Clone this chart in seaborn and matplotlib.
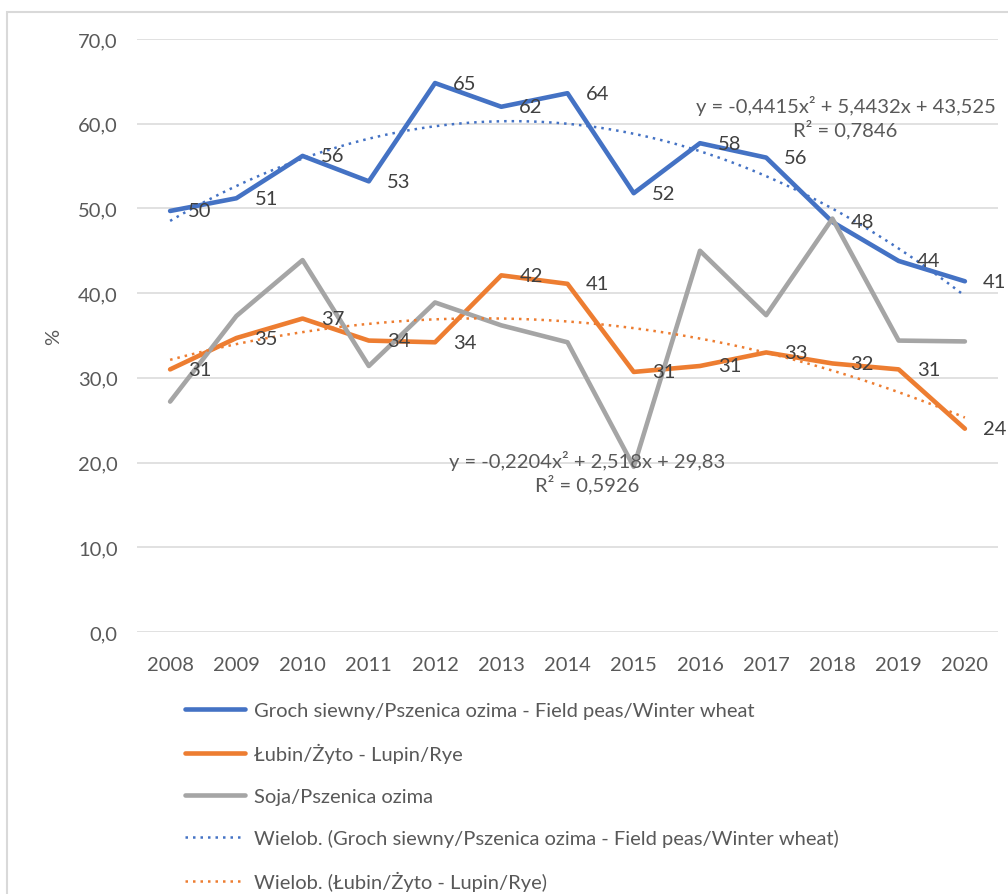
import numpy as np
import pandas as pd
import matplotlib.pyplot as plt
import seaborn as sns
from matplotlib.lines import Line2D
from matplotlib.patches import Rectangle

# data
years = [2008, 2009, 2010, 2011, 2012, 2013, 2014, 2015, 2016, 2017, 2018, 2019, 2020]
groch = [49.7, 51.2, 56.2, 53.2, 64.8, 62.0, 63.6, 51.8, 57.7, 56.0, 48.4, 43.8, 41.4]
lubin = [31.0, 34.7, 37.0, 34.4, 34.2, 42.1, 41.1, 30.7, 31.4, 33.0, 31.7, 31.0, 24.0]
soja = [27.2, 37.3, 43.9, 31.4, 38.9, 36.2, 34.2, 19.5, 45.0, 37.4, 48.8, 34.4, 34.3]

# polynomial trendline coefficients shown on the chart (x = 1..13)
groch_coef = [-0.4415, 5.4432, 43.525]
lubin_coef = [-0.2204, 2.518, 29.83]

names = ["Groch siewny/Pszenica ozima - Field peas/Winter wheat",
         "Łubin/Żyto - Lupin/Rye",
         "Soja/Pszenica ozima"]
trend_names = ["Wielob. (Groch siewny/Pszenica ozima - Field peas/Winter wheat)",
               "Wielob. (Łubin/Żyto - Lupin/Rye)"]

BLUE, ORANGE, GREY = "#4472C4", "#ED7D31", "#A5A5A5"
TXT = "#595959"
FS = 14.5

sns.set_style("white")
plt.rcParams['font.family'] = ['Lato', 'DejaVu Sans']

df = pd.DataFrame({
    "idx": list(range(len(years))) * 3,
    "value": groch + lubin + soja,
    "series": [names[0]] * 13 + [names[1]] * 13 + [names[2]] * 13,
})

fig = plt.figure(figsize=(10.08, 8.95), dpi=100)
ax = fig.add_axes([137 / 1008, 1 - 633 / 895, (998 - 137) / 1008, (633 - 40) / 895])

# chart area border
fig.patches.append(Rectangle((7 / 1008, -0.05), 1.2, 1 - 13 / 895 + 0.05,
                             transform=fig.transFigure, fill=False,
                             edgecolor="#d9d9d9", lw=1.5, zorder=0))

sns.lineplot(data=df, x="idx", y="value", hue="series",
             palette=[BLUE, ORANGE, GREY], linewidth=3.3, legend=False, ax=ax,
             sort=False)

# trendlines
xs = np.linspace(0, 12, 200)
ax.plot(xs, np.polyval(groch_coef, xs + 1), color=BLUE, lw=1.8,
        linestyle=(0, (1, 2)), zorder=3)
ax.plot(xs, np.polyval(lubin_coef, xs + 1), color=ORANGE, lw=1.8,
        linestyle=(0, (1, 2)), zorder=3)

# data labels
for vals in (groch, lubin):
    for i, v in enumerate(vals):
        ax.annotate(f"{v:.0f}", (i, v), xytext=(13, 0), textcoords="offset points",
                    ha="left", va="center", fontsize=FS, color="#404040")

# trend equations
ax.text(10.2, 60.85, "y = -0,4415x² + 5,4432x + 43,525\nR² = 0,7846",
        ha="center", va="center", multialignment="center", fontsize=FS,
        color=TXT, linespacing=1.2)
ax.text(6.3, 18.9, "y = -0,2204x² + 2,518x + 29,83\nR² = 0,5926",
        ha="center", va="center", multialignment="center", fontsize=FS,
        color=TXT, linespacing=1.2)

ax.set_xlim(-0.5, 12.5)
ax.set_ylim(0, 70)
ax.set_yticks(np.arange(0, 71, 10))
ax.set_yticklabels([f"{t:.1f}".replace(".", ",") for t in np.arange(0, 71, 10)])
ax.set_xticks(range(len(years)))
ax.set_xticklabels([str(y) for y in years])
ax.tick_params(axis="both", length=0, labelsize=FS, labelcolor=TXT)
ax.tick_params(axis="x", pad=17)
ax.tick_params(axis="y", pad=14)
ax.grid(axis="y", color="#d9d9d9", lw=1.1)
ax.set_axisbelow(True)
sns.despine(ax=ax, left=True, bottom=True)
ax.set_xlabel("")
ax.set_ylabel("%", fontsize=FS, color=TXT, labelpad=11)

handles = [
    Line2D([], [], color=BLUE, lw=3.3),
    Line2D([], [], color=ORANGE, lw=3.3),
    Line2D([], [], color=GREY, lw=3.3),
    Line2D([], [], color=BLUE, lw=1.8, linestyle=(0, (1, 2))),
    Line2D([], [], color=ORANGE, lw=1.8, linestyle=(0, (1, 2))),
]
fig.legend(handles, names + trend_names, loc="upper left",
           bbox_to_anchor=(185 / 1008, 1 - 703 / 895), frameon=False,
           fontsize=FS, labelcolor=TXT, handlelength=3.0, handletextpad=0.45,
           labelspacing=1.2, borderpad=0, borderaxespad=0)

fig.savefig("out.png", dpi=100, facecolor="white")
